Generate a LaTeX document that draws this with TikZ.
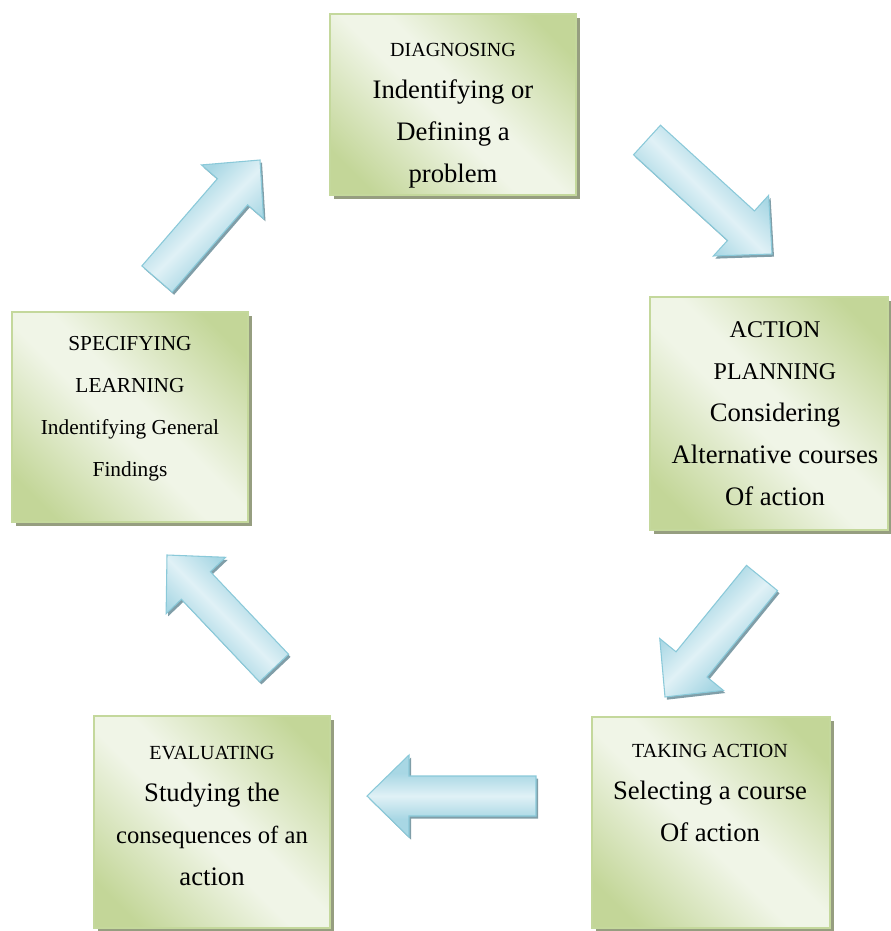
\documentclass[tikz,border=0pt]{standalone}
\usepackage{fontspec}
\setmainfont{Liberation Serif}
\usetikzlibrary{calc,shadows}

\definecolor{boxgreen}{RGB}{195,214,152}
\definecolor{boxlight}{RGB}{240,245,231}
\definecolor{boxedge}{RGB}{196,216,156}
\definecolor{boxshade}{RGB}{150,158,128}
\definecolor{arrblue}{RGB}{168,215,228}
\definecolor{arrlight}{RGB}{224,241,246}
\definecolor{arredge}{RGB}{138,201,217}
\definecolor{arrshade}{RGB}{128,158,168}

\pgfdeclareverticalshading{greenbox}{100bp}{color(0bp)=(boxgreen); color(22bp)=(boxgreen); color(46bp)=(boxlight); color(54bp)=(boxlight); color(78bp)=(boxgreen); color(100bp)=(boxgreen)}
\pgfdeclareverticalshading{bluearrow}{100bp}{color(0bp)=(arrblue); color(36bp)=(arrblue); color(50bp)=(arrlight); color(64bp)=(arrblue); color(100bp)=(arrblue)}

\tikzset{
	cyclebox/.style={draw=boxedge, line width=0.8pt, shading=greenbox, shading angle=-45,
		drop shadow={shadow xshift=3pt, shadow yshift=-3pt, fill=boxshade, opacity=1}},
	cyclearrow/.style={draw=arredge, line width=0.8pt, shading=bluearrow,
		drop shadow={shadow xshift=1.5pt, shadow yshift=-2pt, fill=arrshade, opacity=1}},
	boxtxt/.style={align=center, inner sep=0pt, font=\fontsize{20}{31.5}\selectfont},
}
\newcommand{\headline}[1]{{\fontsize{15}{31.5}\selectfont #1}}

\begin{document}
\begin{tikzpicture}[x={(0.75pt,0)}, y={(0,-0.75pt)}]
			\useasboundingbox (0,0) rectangle (891,931);

			\node[cyclebox, minimum width=184.5pt, minimum height=135.75pt] (diag) at (453,104.5) {};
			\node[cyclebox, minimum width=178.5pt, minimum height=174.75pt] (plan) at (769,413.5) {};
			\node[cyclebox, minimum width=178.5pt, minimum height=158.25pt] (take) at (711,822.5) {};
			\node[cyclebox, minimum width=177pt, minimum height=159pt] (eval) at (212,822) {};
			\node[cyclebox, minimum width=177pt, minimum height=157.5pt] (spec) at (130,417) {};

			\node[boxtxt] (diagtxt) at (453,116) {\headline{DIAGNOSING}\\Indentifying or\\Defining a\\problem};
			\node[boxtxt] (plantxt) at (775,413.5) {{\fontsize{18}{31.5}\selectfont ACTION}\\{\fontsize{18}{31.5}\selectfont PLANNING}\\Considering\\Alternative courses\\Of action};
			\node[boxtxt] (taketxt) at (710,793) {\headline{TAKING ACTION}\\Selecting a course\\Of action};
			\node[boxtxt] (evaltxt) at (212,815.5) {\headline{EVALUATING}\\Studying the\\{\fontsize{18.5}{31.5}\selectfont consequences of an}\\action};
			\node[boxtxt, font=\fontsize{16}{31.5}\selectfont] (spectxt) at (130,409) {SPECIFYING\\LEARNING\\Indentifying General\\Findings};

			\coordinate (a1s) at (647,140);
			\coordinate (a1e) at (772,254);
			\coordinate (a2s) at (762,578);
			\coordinate (a2e) at (665,697);
			\coordinate (a3s) at (536,796);
			\coordinate (a3e) at (367,796);
			\coordinate (a4s) at (274,668);
			\coordinate (a4e) at (167,555);
			\coordinate (a5s) at (157,279);
			\coordinate (a5e) at (260,160);

			\foreach \from/\to/\ang in {a1s/a1e/-45, a2s/a2e/45, a3s/a3e/0, a4s/a4e/-45, a5s/a5e/45}
			{
				\coordinate (hb) at ($(\to)!31.5pt!(\from)$);
				\draw[cyclearrow, shading angle=\ang] ($(\from)!15pt!90:(\to)$) -- ($(hb)!15pt!-90:(\from)$)
					-- ($(hb)!30.75pt!-90:(\from)$) -- (\to) -- ($(hb)!30.75pt!90:(\from)$)
					-- ($(hb)!15pt!90:(\from)$) -- ($(\from)!15pt!-90:(\to)$) -- cycle;
			}
		\end{tikzpicture}
\end{document}
